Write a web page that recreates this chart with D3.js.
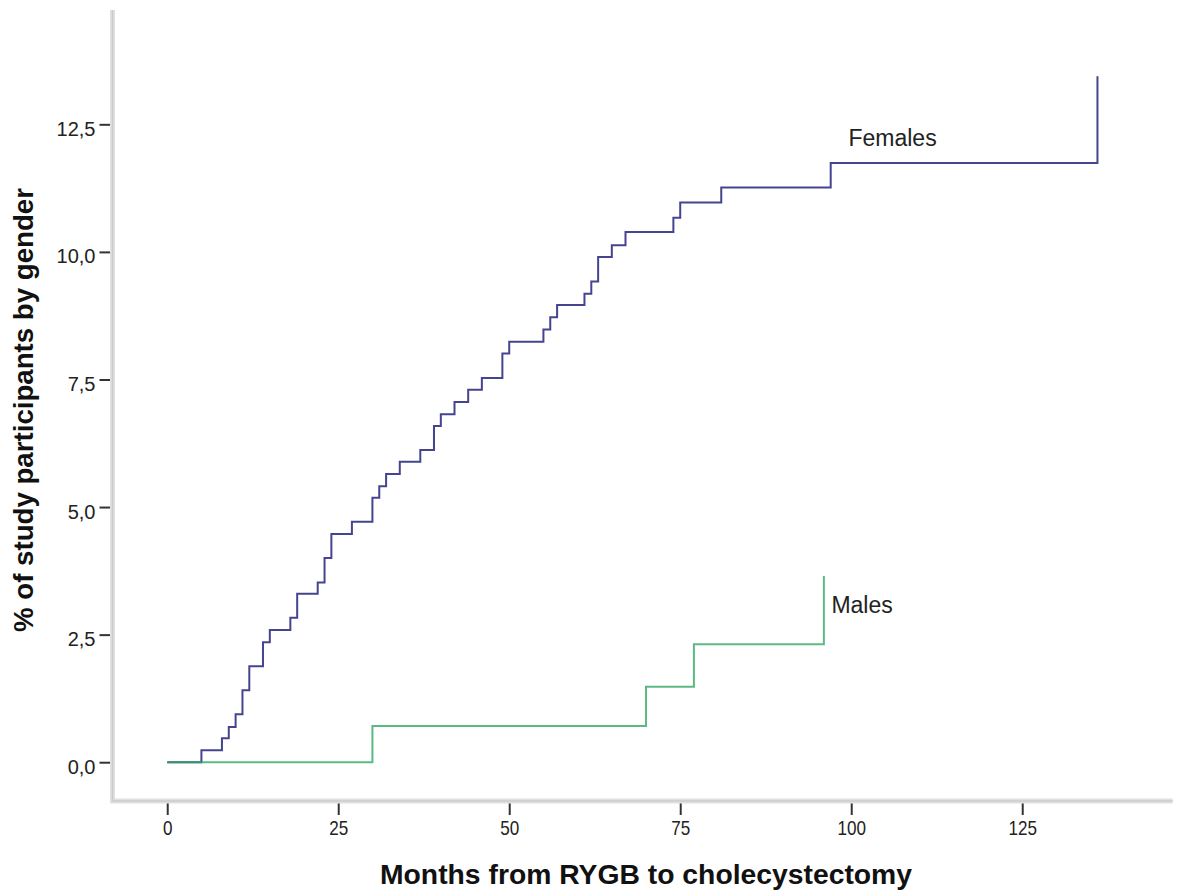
<!DOCTYPE html>
<html>
<head>
<meta charset="utf-8">
<script src="https://cdn.jsdelivr.net/npm/d3@7"></script>
<style>
  body { margin: 0; background: #fff; }
  svg { display: block; }
</style>
</head>
<body>
<div id="chart"></div>
<script>
// cumulative incidence (months, %)
const femaleMonths = [0, 5, 8, 9, 10, 11, 12, 14, 15, 18, 19, 22, 23, 24, 27, 30, 31, 32, 34, 37, 39, 40, 42, 44, 46, 49, 50, 55, 56, 57, 61, 62, 63, 65, 67, 74, 75, 81, 97, 136];
const femaleValues = [0, 0.235, 0.47, 0.69, 0.94, 1.41, 1.88, 2.35, 2.59, 2.83, 3.30, 3.52, 4.00, 4.47, 4.71, 5.18, 5.41, 5.65, 5.89, 6.12, 6.59, 6.82, 7.06, 7.30, 7.53, 8.01, 8.24, 8.48, 8.72, 8.96, 9.18, 9.42, 9.90, 10.13, 10.39, 10.67, 10.97, 11.26, 11.74, 13.44];
const maleMonths = [0, 30, 70, 77, 96];
const maleValues = [0, 0.71, 1.48, 2.31, 3.65];

const xTicks = [0, 25, 50, 75, 100, 125];
const yTicks = [0, 2.5, 5, 7.5, 10, 12.5];

// where the curve labels sit (months, %)
const femaleLabel = {name: "Females", month: 99.6, value: 12.08};
const maleLabel = {name: "Males", month: 97.1, value: 2.92};

const W = 1177, H = 896;
const plot = {left: 112.5, right: 1172.7, top: 10, bottom: 801};

const svg = d3.select("#chart").append("svg")
  .attr("width", W).attr("height", H);

const x = d3.scaleLinear().domain([-8, 147]).range([plot.left, plot.right]);
const y = d3.scaleLinear().domain([-0.76, 14.74]).range([plot.bottom, plot.top]);

const fmt = d => d3.format(".1f")(d).replace(".", ",");

// axes
const yAxis = svg.append("g")
  .attr("transform", `translate(${plot.left - 2},0)`)
  .call(d3.axisLeft(y).tickValues(yTicks).tickFormat(fmt).tickSize(11).tickPadding(4));
yAxis.select(".domain").remove();
yAxis.selectAll("line").attr("stroke", "#333").attr("stroke-width", 2);
yAxis.selectAll("text")
  .attr("dy", "0.55em")
  .style("font-family", "Liberation Sans, Arial, sans-serif")
  .style("font-size", "20px").attr("fill", "#222");

const xAxis = svg.append("g")
  .attr("transform", `translate(0,${plot.bottom + 2})`)
  .call(d3.axisBottom(x).tickValues(xTicks).tickSize(12).tickPadding(5));
xAxis.select(".domain").remove();
xAxis.selectAll("line").attr("stroke", "#333").attr("stroke-width", 2);
xAxis.selectAll("text")
  .style("font-family", "Liberation Sans, Arial, sans-serif")
  .style("font-size", "21px").attr("fill", "#222")
  .attr("textLength", d => String(d).length * 9.5)
  .attr("lengthAdjust", "spacingAndGlyphs");

// frame (light grey L)
svg.append("path")
  .attr("d", `M${plot.left},${plot.top} V${plot.bottom} H${plot.right}`)
  .attr("fill", "none").attr("stroke", "#e0e0e0").attr("stroke-width", 5);
svg.append("path")
  .attr("d", `M${plot.left},${plot.top} V${plot.bottom} H${plot.right}`)
  .attr("fill", "none").attr("stroke", "#cbcbcb").attr("stroke-width", 1.5);

const line = d3.line()
  .x(d => x(d[0])).y(d => y(d[1]))
  .curve(d3.curveStepAfter);

const females = femaleMonths.map((m, i) => [m, femaleValues[i]]);
const males = maleMonths.map((m, i) => [m, maleValues[i]]);

svg.append("path").datum(females)
  .attr("d", line).attr("fill", "none")
  .attr("stroke", "#44448f").attr("stroke-width", 2);

svg.append("path").datum(males)
  .attr("d", line).attr("fill", "none")
  .attr("stroke", "#34a865").attr("stroke-width", 2).attr("stroke-opacity", 0.8);

// curve labels
[femaleLabel, maleLabel].forEach(l => {
  svg.append("text")
    .attr("x", x(l.month)).attr("y", y(l.value))
    .style("font-family", "Liberation Sans, Arial, sans-serif")
    .style("font-size", "23px").attr("fill", "#222")
    .text(l.name);
});

// axis titles
svg.append("text")
  .attr("transform", `translate(33,410) rotate(-90)`)
  .attr("text-anchor", "middle")
  .attr("textLength", 444).attr("lengthAdjust", "spacingAndGlyphs")
  .style("font-family", "Liberation Sans, Arial, sans-serif")
  .style("font-size", "27px").style("font-weight", "bold").attr("fill", "#111")
  .text("% of study participants by gender");

svg.append("text")
  .attr("x", 646).attr("y", 884)
  .attr("text-anchor", "middle")
  .attr("textLength", 532).attr("lengthAdjust", "spacingAndGlyphs")
  .style("font-family", "Liberation Sans, Arial, sans-serif")
  .style("font-size", "28px").style("font-weight", "bold").attr("fill", "#111")
  .text("Months from RYGB to cholecystectomy");
</script>
</body>
</html>
